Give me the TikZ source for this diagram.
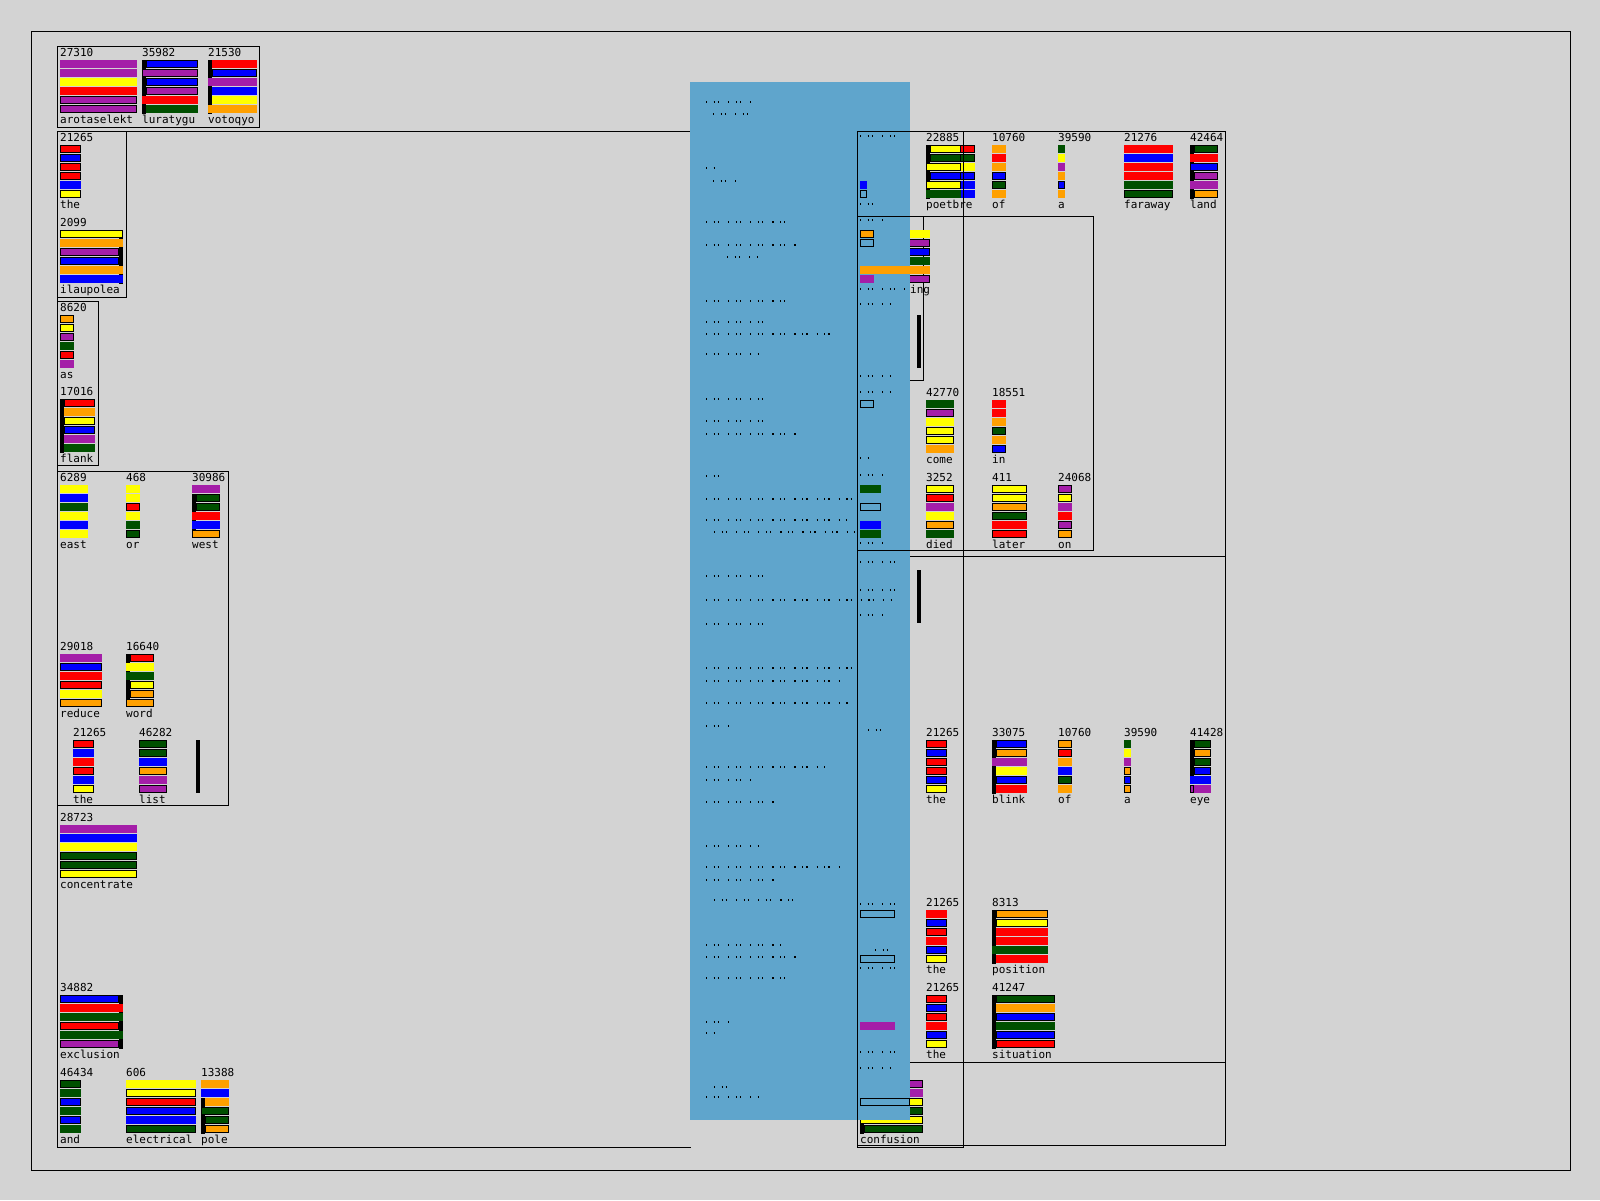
\documentclass[tikz,border=0pt]{standalone}
\usepackage{fontspec}
\newfontfamily\pixfont{DejaVu Sans Mono}
\definecolor{P}{HTML}{A41EA8}
\definecolor{B}{HTML}{0000FF}
\definecolor{Y}{HTML}{FFFF00}
\definecolor{R}{HTML}{FF0000}
\definecolor{G}{HTML}{005000}
\definecolor{O}{HTML}{FFA000}
\definecolor{E}{HTML}{5FA5CC}
\definecolor{bg}{HTML}{D3D3D3}
\tikzset{
  txt/.style={font=\pixfont\fontsize{11}{11}\selectfont, inner sep=0pt, anchor=base west, text=black},
  frame/.style={draw=black, line width=1pt},
  dots/.style={draw=black, line width=1.2pt, dash pattern=on 1.2pt off 6.5pt on 1.2pt off 3pt on 1.2pt off 9pt},
}
\newcommand\onebar[5]{%
  \fill[fill=#4] (#1,#2) rectangle (#1+#3,#2+8);
  \ifnum#5=1 \draw[line width=1pt] (#1+0.5,#2+0.5) rectangle (#1+#3-0.5,#2+7.5);\fi
}
\newcommand\barset[4]{%
  \foreach \barc/\bart/\baro/\barr [count=\bari from 0] in {#4}{%
    \fill[fill=\barc] (#1+\baro,#2+11+9*\bari) rectangle (#1+#3-\barr,#2+19+9*\bari);
    \ifnum\bart=1 \draw[line width=1pt] (#1+\baro+0.5,#2+11.5+9*\bari) rectangle (#1+#3-\barr-0.5,#2+18.5+9*\bari);\fi
  }%
}
\newcommand\wblock[7]{%
  \barset{#2}{#3}{#4}{#7}
  \node[txt] (#1n) at (#2,#3+7) {#5};
  \node[txt] (#1w) at (#2,#3+74) {#6};
}
\newcommand\spinebar[3]{\fill[black] (#1,#2) rectangle (#1+4,#3);}
\begin{document}
\begin{tikzpicture}[x=1pt,y=-1pt]
\fill[bg] (0,0) rectangle (1600,1200);
\useasboundingbox (0,0) rectangle (1600,1200);
\draw[frame] (31,31) rectangle (1570,1170);
% ---------- left side ----------
\draw[frame] (57,46) rectangle (259,127);
\draw[frame] (700,131) -- (57,131) -- (57,1147) -- (691,1147);
\draw[frame] (57,131) rectangle (126,297);
\draw[frame] (57,301) rectangle (98,465);
\draw[frame] (57,471) rectangle (228,805);

\wblock{a1}{60}{49}{77}{27310}{arotaselekt}{P/0/0/0,P/0/0/0,Y/0/0/0,R/0/0/0,P/1/0/0,P/1/0/0}
\spinebar{142}{60}{114}
\wblock{a2}{142}{49}{56}{35982}{luratygu}{B/1/4/0,P/1/0/0,B/1/4/0,P/1/4/0,R/0/0/0,G/0/4/0}
\spinebar{208}{60}{114}
\wblock{a3}{208}{49}{49}{21530}{votoqyo}{R/0/4/0,B/1/4/0,P/0/0/0,B/0/4/0,Y/0/4/0,O/0/0/0}

\wblock{d1}{60}{134}{21}{21265}{the}{R/1/0/0,B/1/0/0,R/1/0/0,R/1/0/0,B/0/0/0,Y/1/0/0}
\fill[black] (119,230) rectangle (123,284);
\wblock{e1}{60}{219}{63}{2099}{ilaupolea}{Y/1/0/0,O/0/0/0,P/1/0/4,B/1/0/4,O/0/0/0,B/0/0/0}

\wblock{f1}{60}{304}{14}{8620}{as}{O/1/0/0,Y/1/0/0,P/1/0/0,G/0/0/0,R/1/0/0,P/0/0/0}
\spinebar{60}{399}{453}
\wblock{g1}{60}{388}{35}{17016}{flank}{R/1/4/0,O/0/4/0,Y/1/4/0,B/1/4/0,P/0/4/0,G/0/4/0}

\wblock{h1}{60}{474}{28}{6289}{east}{Y/0/0/0,B/0/0/0,G/0/0/0,Y/0/0/0,B/0/0/0,Y/0/0/0}
\wblock{h2}{126}{474}{14}{468}{or}{Y/0/0/0,Y/0/0/0,R/1/0/0,Y/0/0/0,G/0/0/0,G/1/0/0}
\spinebar{192}{494}{530}
\wblock{h3}{192}{474}{28}{30986}{west}{P/0/0/0,G/1/4/0,G/1/4/0,R/0/0/0,B/0/0/0,O/1/0/0}

\wblock{i1}{60}{643}{42}{29018}{reduce}{P/0/0/0,B/1/0/0,R/0/0/0,R/1/0/0,Y/0/0/0,O/1/0/0}
\spinebar{126}{654}{702}
\wblock{i2}{126}{643}{28}{16640}{word}{R/1/4/0,Y/0/0/0,G/0/0/0,Y/1/4/0,O/1/4/0,O/1/0/0}
\wblock{i3}{73}{729}{21}{21265}{the}{R/1/0/0,B/0/0/0,R/0/0/0,R/1/0/0,B/0/0/0,Y/1/0/0}
\wblock{i4}{139}{729}{28}{46282}{list}{G/1/0/0,G/1/0/0,B/0/0/0,O/1/0/0,P/0/0/0,P/1/0/0}
\spinebar{196}{740}{793}

\wblock{j1}{60}{814}{77}{28723}{concentrate}{P/0/0/0,B/0/0/0,Y/0/0/0,G/1/0/0,G/1/0/0,Y/1/0/0}
\fill[black] (119,995) rectangle (123,1049);
\wblock{j2}{60}{984}{63}{34882}{exclusion}{B/1/0/4,R/0/0/0,G/0/0/0,R/1/0/4,G/0/0/0,P/1/0/4}
\wblock{j3}{60}{1069}{21}{46434}{and}{G/1/0/0,G/0/0/0,B/1/0/0,G/0/0/0,B/1/0/0,G/0/0/0}
\wblock{j4}{126}{1069}{70}{606}{electrical}{Y/0/0/0,Y/1/0/0,R/1/0/0,B/1/0/0,B/0/0/0,G/1/0/0}
\spinebar{201}{1098}{1134}
\wblock{j5}{201}{1069}{28}{13388}{pole}{O/0/0/0,B/0/0/0,O/0/4/0,G/1/0/0,G/1/4/0,O/1/4/0}

% ---------- under the blue panel ----------
\draw[frame] (857,556) rectangle (1225,1062);
\draw[frame] (857,216) rectangle (923,380);
\barset{860}{219}{70}{Y/0/0/0,P/1/0/0,B/1/0/0,G/0/0/0,O/0/0/0,P/1/0/0}
\spinebar{860}{1124}{1134}
\barset{860}{1069}{63}{P/1/0/0,P/0/0/0,Y/1/0/0,G/1/0/0,Y/1/0/0,G/1/4/0}

% ---------- blue panel ----------
\fill[E] (690,82) rectangle (910,1120);
\foreach \ya/\xa/\xb in {102/706/752,114/713/752,168/706/715,181/713/739,222/706/786,
  245/706/801,257/727/760,301/706/793,322/706/770,334/706/837,354/706/760,399/706/772,
  421/706/772,434/706/796,476/706/727,499/706/857,520/706/847,532/714/855,576/706/770,
  600/706/893,624/706/765,668/706/857,681/706/842,703/706/849,726/706/730,767/706/826,
  780/706/752,802/706/776,846/706/760,867/706/845,880/706/776,900/714/796,945/706/781,
  957/706/801,978/706/791,1022/706/735,1033/706/716,1087/714/727,1097/706/760,
  136/860/900,204/860/875,220/860/887,289/860/905,304/860/890,376/860/890,392/860/890,
  458/860/870,475/860/885,543/860/885,562/860/895,590/860/895,615/860/885,730/868/885,
  904/860/895,950/875/895,968/860/895,1052/860/895,1068/860/890}
  {\draw[dots] (\xa,\ya) -- (\xb,\ya);}

% ---------- on top of the panel ----------
\onebar{860}{181}{7}{B}{0}
\onebar{860}{190}{7}{E}{1}
\onebar{860}{230}{14}{O}{1}
\onebar{860}{239}{14}{E}{1}
\onebar{860}{266}{70}{O}{0}
\onebar{860}{275}{14}{P}{0}
\node[txt] (ingw) at (910,293) {ing};
\onebar{860}{400}{14}{E}{1}
\onebar{860}{485}{21}{G}{0}
\onebar{860}{503}{21}{E}{1}
\onebar{860}{521}{21}{B}{0}
\onebar{860}{530}{21}{G}{0}
\onebar{860}{910}{35}{E}{1}
\onebar{860}{955}{35}{E}{1}
\onebar{860}{1022}{35}{P}{0}
\onebar{860}{1098}{50}{E}{1}
\node[txt] (confw) at (860,1143) {confusion};

% ---------- right side ----------
\barset{926}{134}{49}{R/1/0/0,G/1/0/0,Y/0/0/0,B/1/0/0,B/0/0/0,B/0/0/0}
\spinebar{926}{145}{199}
\barset{926}{134}{35}{Y/1/4/0,G/1/4/0,Y/1/0/0,B/1/4/0,Y/1/0/0,G/0/0/0}
\node[txt] (r1n) at (926,141) {22885};
\node[txt] (r1w) at (926,208) {poetbre};
\wblock{r2}{992}{134}{14}{10760}{of}{O/0/0/0,R/0/0/0,O/0/0/0,B/1/0/0,G/1/0/0,O/0/0/0}
\wblock{r3}{1058}{134}{7}{39590}{a}{G/0/0/0,Y/0/0/0,P/0/0/0,O/0/0/0,B/1/0/0,O/0/0/0}
\wblock{r4}{1124}{134}{49}{21276}{faraway}{R/0/0/0,B/0/0/0,R/0/0/0,R/0/0/0,G/0/0/0,G/1/0/0}
\spinebar{1190}{145}{199}
\wblock{r5}{1190}{134}{28}{42464}{land}{G/1/4/0,R/0/0/0,B/1/0/0,P/1/4/0,P/0/0/0,O/1/4/0}

\spinebar{917}{315}{368}
\wblock{s1}{926}{389}{28}{42770}{come}{G/0/0/0,P/1/0/0,Y/0/0/0,Y/1/0/0,Y/1/0/0,O/0/0/0}
\wblock{s2}{992}{389}{14}{18551}{in}{R/0/0/0,R/0/0/0,O/0/0/0,G/1/0/0,O/0/0/0,B/1/0/0}
\wblock{t1}{926}{474}{28}{3252}{died}{Y/1/0/0,R/1/0/0,P/0/0/0,Y/0/0/0,O/1/0/0,G/0/0/0}
\wblock{t2}{992}{474}{35}{411}{later}{Y/1/0/0,Y/1/0/0,O/1/0/0,G/1/0/0,R/0/0/0,R/1/0/0}
\wblock{t3}{1058}{474}{14}{24068}{on}{P/1/0/0,Y/1/0/0,P/0/0/0,R/0/0/0,P/1/0/0,O/1/0/0}

\spinebar{917}{570}{623}
\wblock{u1}{926}{729}{21}{21265}{the}{R/1/0/0,B/1/0/0,R/1/0/0,R/1/0/0,B/1/0/0,Y/1/0/0}
\spinebar{992}{740}{794}
\wblock{u2}{992}{729}{35}{33075}{blink}{B/1/4/0,O/1/4/0,P/0/0/0,Y/0/4/0,B/1/4/0,R/0/4/0}
\wblock{u3}{1058}{729}{14}{10760}{of}{O/1/0/0,R/1/0/0,O/0/0/0,B/0/0/0,G/1/0/0,O/0/0/0}
\wblock{u4}{1124}{729}{7}{39590}{a}{G/0/0/0,Y/0/0/0,P/0/0/0,O/1/0/0,B/1/0/0,O/1/0/0}
\spinebar{1190}{740}{776}
\wblock{u5}{1190}{729}{21}{41428}{eye}{G/1/4/0,O/1/4/0,G/1/4/0,B/1/4/0,B/0/0/0,P/0/4/0}
\onebar{1190}{785}{4}{P}{1}

\wblock{v1}{926}{899}{21}{21265}{the}{R/0/0/0,B/1/0/0,R/1/0/0,R/0/0/0,B/1/0/0,Y/1/0/0}
\spinebar{992}{910}{964}
\wblock{v2}{992}{899}{56}{8313}{position}{O/1/4/0,Y/1/4/0,R/0/4/0,R/0/4/0,G/0/0/0,R/0/4/0}
\wblock{w1}{926}{984}{21}{21265}{the}{R/1/0/0,B/1/0/0,R/1/0/0,R/0/0/0,B/1/0/0,Y/1/0/0}
\spinebar{992}{995}{1049}
\wblock{w2}{992}{984}{63}{41247}{situation}{G/1/4/0,O/0/4/0,B/1/4/0,G/0/4/0,B/1/4/0,R/1/4/0}

% ---------- right frames ----------
\draw[frame] (857,131) rectangle (1225,1145);
\draw[frame] (857,131) rectangle (963,1147);
\draw[frame] (857,216) rectangle (1093,550);
\end{tikzpicture}
\end{document}
